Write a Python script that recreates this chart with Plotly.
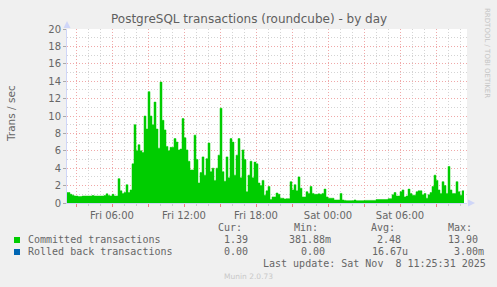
import pandas as pd
import plotly.graph_objects as go

# ---------------- data (10-minute samples, Fri 7 Nov 2025 02:00 -> Sat 8 Nov 11:20) ----------------
fri02 = [1.2, 1.2, 1.2, 1.0, 0.9, 0.8]
fri03 = [0.8, 0.75, 0.75, 0.8, 0.8, 0.8]
fri04 = [0.8, 0.8, 0.85, 0.8, 0.8, 0.8]
fri05 = [0.8, 0.8, 0.85, 1.05, 0.85, 0.8]
fri06 = [1.0, 0.8, 0.8, 2.8, 1.4, 1.1]
fri07 = [1.2, 2.1, 1.2, 1.5, 4.5, 9.0]
fri08 = [6.0, 6.7, 6.0, 5.8, 10.0, 8.5]
fri09 = [12.8, 10.0, 9.0, 11.6, 8.5, 6.3]
fri10 = [13.9, 9.5, 8.4, 6.5, 6.0, 6.4]
fri11 = [6.4, 7.4, 7.0, 6.1, 6.2, 9.7]
fri12 = [7.5, 6.1, 4.8, 3.8, 3.8, 7.8]
fri13 = [5.0, 2.3, 3.5, 5.3, 3.2, 5.1]
fri14 = [6.9, 3.6, 4.0, 2.6, 4.0, 5.5]
fri15 = [10.9, 3.6, 2.5, 5.3, 2.9, 7.4]
fri16 = [7.0, 3.2, 5.5, 7.4, 2.9, 6.1]
fri17 = [5.0, 1.3, 3.2, 4.8, 2.9, 4.7]
fri18 = [4.5, 2.3, 2.0, 2.6, 0.9, 1.4]
fri19 = [1.9, 0.4, 0.7, 0.7, 1.15, 1.0]
fri20 = [0.55, 0.55, 0.45, 0.5, 0.5, 2.45]
fri21 = [1.5, 2.1, 1.4, 3.0, 1.7, 0.7]
fri22 = [0.7, 1.3, 1.1, 1.9, 1.1, 1.0]
fri23 = [1.0, 1.05, 1.0, 1.1, 1.6, 0.7]
sat00 = [0.55, 0.55, 0.55, 0.35, 0.35, 0.35]
sat01 = [1.1, 0.35, 0.3, 0.27, 0.27, 0.27]
sat02 = [0.27, 0.35, 0.27, 0.27, 0.27, 0.27]
sat03 = [0.3, 0.3, 0.3, 0.3, 0.3, 0.3]
sat04 = [0.4, 0.4, 0.4, 0.4, 0.4, 0.4]
sat05 = [0.5, 0.5, 0.95, 1.2, 0.8, 0.8]
sat06 = [1.3, 1.5, 0.7, 0.8, 1.6, 1.1]
sat07 = [0.9, 0.9, 1.3, 1.4, 1.4, 0.95]
sat08 = [1.1, 0.55, 0.95, 1.2, 1.9, 3.2]
sat09 = [2.6, 1.5, 1.1, 2.45, 2.0, 1.1]
sat10 = [4.2, 1.5, 1.1, 1.1, 2.45, 1.3]
sat11 = [0.9, 1.4, 1.39]

committed = (fri02 + fri03 + fri04 + fri05 + fri06 + fri07 + fri08 + fri09 + fri10 + fri11
             + fri12 + fri13 + fri14 + fri15 + fri16 + fri17 + fri18 + fri19 + fri20 + fri21
             + fri22 + fri23 + sat00 + sat01 + sat02 + sat03 + sat04 + sat05 + sat06 + sat07
             + sat08 + sat09 + sat10 + sat11)
times = [t.strftime("%Y-%m-%d %H:%M") for t in
         pd.date_range("2025-11-07 02:00", periods=len(committed), freq="10min")]

tick_times = [t.strftime("%Y-%m-%d %H:%M") for t in
              pd.date_range("2025-11-07 03:00", "2025-11-08 09:00", freq="3h")]
tick_labels = ["", "Fri 06:00", "", "Fri 12:00", "", "Fri 18:00", "", "Sat 00:00", "",
               "Sat 06:00", ""]

series_names = ["Committed transactions", "Rolled back transactions"]
series_colors = ["#00cc00", "#0066b3"]
stat_headers = ["Cur:", "Min:", "Avg:", "Max:"]
stats_committed = ["1.39", "381.88m", "2.48", "13.90"]
stats_rolledback = ["0.00", "0.00", "16.67u", "3.00m"]

title = "PostgreSQL transactions (roundcube) - by day"
ylabel = "Trans / sec"
last_update = "Last update: Sat Nov \u00a08 11:25:31 2025"

# ---------------- layout helpers ----------------
W, H = 497, 287
L, R, T, B = 67, 467, 29, 203


def px(x):
    return (x - L) / (R - L)


def py(y):
    return (B - y) / (B - T)


FONT = "#666666"
SANS = "DejaVu Sans"
MONO = "DejaVu Sans Mono"

fig = go.Figure()
fig.add_trace(go.Scatter(
    x=times, y=committed, mode="lines",
    line=dict(width=0.5, shape="hv", color=series_colors[0], simplify=False),
    fill="tozeroy", fillcolor=series_colors[0], hoverinfo="skip", showlegend=False))

anns = []


def ann(text, x, y, xanchor="left", size=10, color=FONT, family=MONO, angle=0, yanchor="middle"):
    anns.append(dict(text=text, x=px(x), y=py(y), xref="paper", yref="paper", showarrow=False,
                     xanchor=xanchor, yanchor=yanchor, textangle=angle,
                     font=dict(size=size, color=color, family=family), borderpad=0))


ann(title, 248.5, 19, xanchor="center", size=12, family=SANS, color="#5f5f5f")
ann(ylabel, 11, 113, xanchor="center", size=10.5, family=SANS, angle=-90)
ann("RRDTOOL / TOBI OETIKER", 487, 53, xanchor="center", size=7, color="#c4c4c4", family=SANS, angle=90)

hdr_x = [217, 293, 370, 447]
row1_x = [223, 288, 376, 447]
row2_x = [223, 300, 371, 453]
for t, x in zip(stat_headers, hdr_x):
    ann(t, x, 227)
for t, x in zip(stats_committed, row1_x):
    ann(t, x, 239.5)
for t, x in zip(stats_rolledback, row2_x):
    ann(t, x, 251.7)
ann(series_names[0], 27, 239.5)
ann(series_names[1], 27, 251.7)
ann(last_update, 262, 263.5)
ann("Munin 2.0.73", 248, 276, xanchor="center", size=7.5, color="#c8c8c8", family=SANS)

shapes = [
    dict(type="rect", xref="paper", yref="paper", x0=px(14), x1=px(20), y0=py(243), y1=py(237),
         fillcolor=series_colors[0], line=dict(width=0)),
    dict(type="rect", xref="paper", yref="paper", x0=px(14), x1=px(20), y0=py(255), y1=py(249),
         fillcolor=series_colors[1], line=dict(width=0)),
    dict(type="path", xref="paper", yref="paper", xsizemode="pixel", ysizemode="pixel",
         xanchor=0, yanchor=1, path="M -3.5,1 L 3.5,1 L 0,8 Z",
         fillcolor="#CFD6F8", line=dict(width=0)),
    dict(type="path", xref="paper", yref="paper", xsizemode="pixel", ysizemode="pixel",
         xanchor=1, yanchor=0, path="M 1,-3.5 L 1,3.5 L 8,0 Z",
         fillcolor="#CFD6F8", line=dict(width=0)),
]

fig.update_layout(
    width=W, height=H,
    margin=dict(l=L, r=W - R, t=T, b=H - B, pad=0),
    paper_bgcolor="#f0f0f0", plot_bgcolor="#ffffff",
    annotations=anns, shapes=shapes, showlegend=False,
    xaxis=dict(
        type="date", range=["2025-11-07 02:15", "2025-11-08 11:35"],
        tickmode="array", tickvals=tick_times, ticktext=tick_labels,
        showgrid=True, gridcolor="#f0a8a8", griddash="1px,2px", gridwidth=1,
        ticks="outside", ticklen=3, tickcolor="#f08080", tickwidth=1,
        tickfont=dict(family=SANS, size=10, color=FONT),
        showline=True, linecolor="#CFD6F8", linewidth=1, zeroline=False,
        minor=dict(tick0="2025-11-07 00:00", dtick=3600000, showgrid=True,
                   gridcolor="#d4d4d4", griddash="1px,2px", ticks="outside",
                   ticklen=2, tickcolor="#cccccc"),
        fixedrange=True,
    ),
    yaxis=dict(
        range=[0, 20], tickmode="linear", tick0=0, dtick=2,
        showgrid=True, gridcolor="#f0a8a8", griddash="1px,2px", gridwidth=1,
        ticks="outside", ticklen=3, tickcolor="#aaaaaa",
        tickfont=dict(family=SANS, size=10, color=FONT),
        showline=True, linecolor="#CFD6F8", linewidth=1, zeroline=False,
        minor=dict(dtick=1, showgrid=True, gridcolor="#d4d4d4", griddash="1px,2px"),
        fixedrange=True,
    ),
)

fig.write_html("out.html")
